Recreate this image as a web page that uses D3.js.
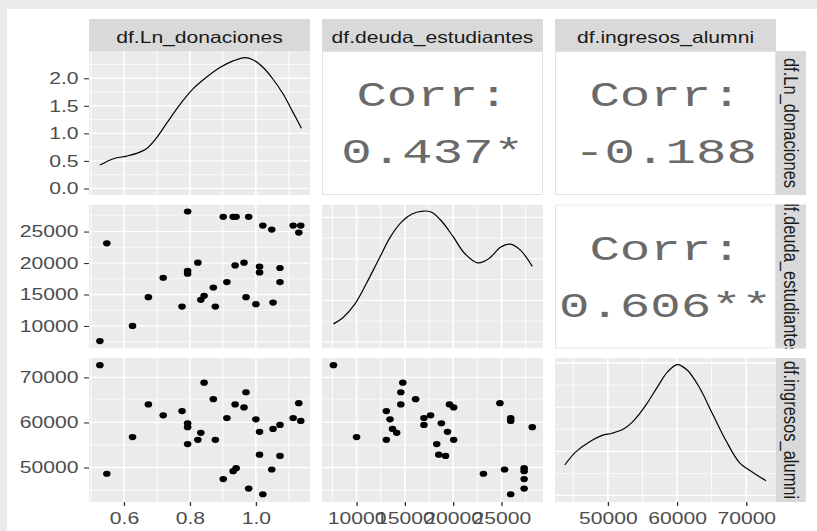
<!DOCTYPE html>
<meta charset="utf-8">
<html>
<head>
<style>
  body { margin: 0; background: #fff; }
  svg { display: block; }
</style>
<script src="https://d3js.org/d3.v7.min.js"></script>
</head>
<body>
<script>

// Variable names (strip labels)
var varNames = ["df.Ln_donaciones", "df.deuda_estudiantes", "df.ingresos_alumni"];

var lnDonaciones = [0.527, 0.548, 0.626, 0.674, 0.719, 0.776, 0.793, 0.793, 0.793, 0.824, 0.833,
                    0.843, 0.871, 0.877, 0.901, 0.912, 0.931, 0.940, 0.937, 0.964, 0.970, 0.978,
                    1.000, 1.011, 1.011, 1.021, 1.048, 1.052, 1.073, 1.073, 1.113, 1.130, 1.136];
var deudaEstudiantes = [7607, 23133, 10000, 14580, 17660, 13080, 28191, 18777, 18298, 20053, 14150,
                        14788, 16112, 13080, 27346, 16974, 27346, 27346, 19623, 20053, 14580, 27346,
                        13463, 19415, 18505, 25957, 25319, 13718, 16974, 19208, 25957, 24840, 25957];
var ingresosAlumni = [72703, 48615, 56747, 64000, 61582, 62527, 58945, 59824, 55209, 56154, 57692,
                      68835, 65165, 56154, 47429, 60989, 49187, 49846, 64000, 63341, 66703, 45319,
                      60703, 57912, 52857, 44066, 49560, 58571, 59451, 52571, 60989, 64286, 60330];

// Diagonal density curves
var donDensX = [0.527, 0.568, 0.608, 0.638, 0.669, 0.699, 0.729, 0.770, 0.810, 0.851, 0.891,
                0.931, 0.967, 0.992, 1.022, 1.052, 1.083, 1.113, 1.138];
var donDensY = [0.424, 0.54, 0.587, 0.636, 0.727, 0.922, 1.18, 1.527, 1.813, 2.024, 2.195,
                2.315, 2.376, 2.333, 2.195, 1.982, 1.709, 1.376, 1.091];
var deudaDensX = [7600, 8605, 9796, 10988, 12342, 13534, 14715, 15733, 16925, 17770, 18788,
                  19980, 21171, 22525, 23717, 24898, 25916, 26935, 28190];
var deudaDensY = [0.87, 1.18, 1.81, 2.79, 4.02, 5.08, 5.80, 6.16, 6.30, 6.24, 5.82,
                  5.08, 4.27, 3.81, 4.02, 4.56, 4.71, 4.43, 3.64]; // x 1e-5
var ingDensX = [43768, 45319, 47246, 49174, 50623, 52319, 53768, 55464, 57145, 58594, 60043,
                61493, 63188, 65116, 67058, 68986, 70913, 72855];
var ingDensY = [1.38, 1.96, 2.41, 2.72, 2.82, 3.02, 3.40, 4.08, 4.91, 5.59, 5.93,
                5.67, 4.91, 3.70, 2.49, 1.50, 1.05, 0.67]; // x 1e-5

// Correlation panels
var corrRows = [0, 0, 1];
var corrCols = [1, 2, 2];
var corrLabels = ["0.437*", "-0.188", "0.606**"];

// Axis limits and breaks
var limDon = [0.494, 1.164];
var limDeuda = [6420, 29300];
var limIng = [42350, 74300];
var ticksDon = [0.6, 0.8, 1.0];
var ticksDeuda = [10000, 15000, 20000, 25000];
var ticksIng = [50000, 60000, 70000];
var ticksDonDens = [0.0, 0.5, 1.0, 1.5, 2.0];
var ticksDens = [0, 2, 4, 6];

// Layout
var width = 817, height = 531;
var colX = [89, 322, 555], panelW = 221;
var rowY = [51, 204.5, 358], panelH = 144;
var SX = 1.28; // the picture is stretched sideways, so text and dots are too
var fontSans = "'Liberation Sans', Arial, sans-serif";

var svg = d3.select("body").append("svg")
    .attr("width", width)
    .attr("height", height);

// grey frame of the screenshot
svg.append("rect").attr("width", width).attr("height", height).attr("fill", "#ebebeb");
svg.append("rect").attr("x", 7).attr("y", 9).attr("width", width).attr("height", height).attr("fill", "#fff");

function expand(lo, hi) {
    var pad = (hi - lo) * 0.05;
    return [lo - pad, hi + pad];
}

function minorTicks(major, dom) {
    var step = major[1] - major[0], out = [];
    for (var v = major[0] - step / 2; v <= dom[1]; v += step) {
        if (v >= dom[0]) out.push(v);
    }
    return out;
}

var lims = [limDon, limDeuda, limIng];
var majors = [ticksDon, ticksDeuda, ticksIng];
var columns = [lnDonaciones, deudaEstudiantes, ingresosAlumni];

var xScales = lims.map(function(l, c) {
    return d3.scaleLinear().domain(l).range([colX[c], colX[c] + panelW]);
});
var yScales = lims.map(function(l, r) {
    return d3.scaleLinear().domain(l).range([rowY[r] + panelH, rowY[r]]);
});

// density scales of the diagonal
var densX = [donDensX, deudaDensX, ingDensX];
var densY = [donDensY, deudaDensY, ingDensY];
var densTicks = [ticksDonDens, ticksDens, ticksDens];
var densScales = densY.map(function(d, i) {
    return d3.scaleLinear().domain(expand(0, d3.max(d))).range([rowY[i] + panelH, rowY[i]]);
});

// clip paths per panel
var defs = svg.append("defs");
for (var r = 0; r < 3; r++) {
    for (var c = 0; c < 3; c++) {
        defs.append("clipPath").attr("id", "clip" + r + c)
            .append("rect").attr("x", colX[c]).attr("y", rowY[r])
            .attr("width", panelW).attr("height", panelH);
    }
    defs.append("clipPath").attr("id", "clipStrip" + r)
        .append("rect").attr("x", 776).attr("y", rowY[r])
        .attr("width", 30).attr("height", panelH);
}

function drawGrid(g, r, c, ys, yMajor) {
    var xs = xScales[c];
    var xMinor = minorTicks(majors[c], xs.domain());
    var yMinor = minorTicks(yMajor, ys.domain());
    var x0 = colX[c], x1 = colX[c] + panelW, y0 = rowY[r], y1 = rowY[r] + panelH;

    g.append("rect").attr("x", x0).attr("y", y0).attr("width", panelW).attr("height", panelH)
        .attr("fill", "#ebebeb");

    g.selectAll(".hminor").data(yMinor).enter().append("line")
        .attr("x1", x0).attr("x2", x1)
        .attr("y1", function(d) { return ys(d); }).attr("y2", function(d) { return ys(d); })
        .attr("stroke", "#fff").attr("stroke-width", 0.7);
    g.selectAll(".vminor").data(xMinor).enter().append("line")
        .attr("y1", y0).attr("y2", y1)
        .attr("x1", function(d) { return xs(d); }).attr("x2", function(d) { return xs(d); })
        .attr("stroke", "#fff").attr("stroke-width", 0.9);
    g.selectAll(".hmajor").data(yMajor).enter().append("line")
        .attr("x1", x0).attr("x2", x1)
        .attr("y1", function(d) { return ys(d); }).attr("y2", function(d) { return ys(d); })
        .attr("stroke", "#fff").attr("stroke-width", 1.3);
    g.selectAll(".vmajor").data(majors[c]).enter().append("line")
        .attr("y1", y0).attr("y2", y1)
        .attr("x1", function(d) { return xs(d); }).attr("x2", function(d) { return xs(d); })
        .attr("stroke", "#fff").attr("stroke-width", 1.6);
}

for (var r = 0; r < 3; r++) {
    for (var c = 0; c < 3; c++) {
        var g = svg.append("g").attr("clip-path", "url(#clip" + r + c + ")");
        if (r === c) {
            // diagonal: density line
            var ds = densScales[r];
            drawGrid(g, r, c, ds, densTicks[r]);
            var pts = densX[r].map(function(x, i) { return [x, densY[r][i]]; });
            var line = d3.line()
                .x(function(d) { return xScales[c](d[0]); })
                .y(function(d) { return ds(d[1]); })
                .curve(d3.curveCatmullRom);
            g.append("path").datum(pts).attr("d", line)
                .attr("fill", "none").attr("stroke", "#000").attr("stroke-width", 1.2);
        } else if (r > c) {
            // lower: scatter
            drawGrid(g, r, c, yScales[r], majors[r]);
            var xs = xScales[c], ys = yScales[r];
            var xv = columns[c], yv = columns[r];
            g.selectAll("ellipse").data(d3.range(xv.length)).enter().append("ellipse")
                .attr("cx", function(i) { return xs(xv[i]); })
                .attr("cy", function(i) { return ys(yv[i]); })
                .attr("rx", 3.8).attr("ry", 3.1)
                .attr("fill", "#000");
        } else {
            // upper: correlation text panel
            g.append("rect").attr("x", colX[c] + 0.5).attr("y", rowY[r] + 0.5)
                .attr("width", panelW - 1).attr("height", panelH - 1)
                .attr("fill", "#fff").attr("stroke", "#e3e3e3").attr("stroke-width", 1);
        }
    }
}

// correlation labels
corrLabels.forEach(function(lab, i) {
    var cx = colX[corrCols[i]] + panelW / 2;
    var cy = rowY[corrRows[i]] + panelH / 2;
    [["Corr:", cy - 17], [lab, cy + 40]].forEach(function(t) {
        svg.append("text")
            .attr("transform", "translate(" + cx + "," + t[1] + ") scale(1.45,1)")
            .attr("text-anchor", "middle")
            .attr("font-family", "'Liberation Mono', 'Courier New', monospace")
            .attr("font-size", 35)
            .attr("fill", "#6a6a6a")
            .text(t[0]);
    });
});

// top strips
varNames.forEach(function(name, c) {
    svg.append("rect").attr("x", colX[c]).attr("y", 19).attr("width", panelW).attr("height", 32)
        .attr("fill", "#d9d9d9");
    svg.append("text")
        .attr("transform", "translate(" + (colX[c] + panelW / 2) + ",43) scale(" + SX + ",1)")
        .attr("text-anchor", "middle")
        .attr("font-family", fontSans).attr("font-size", 16.5)
        .attr("fill", "#1a1a1a")
        .text(name);
});

// right strips
varNames.forEach(function(name, r) {
    svg.append("rect").attr("x", 776).attr("y", rowY[r]).attr("width", 30).attr("height", panelH)
        .attr("fill", "#d9d9d9");
    svg.append("g").attr("clip-path", "url(#clipStrip" + r + ")")
        .append("text")
        .attr("transform", "translate(791," + (rowY[r] + panelH / 2) + ") rotate(90) scale(1," + SX + ")")
        .attr("text-anchor", "middle")
        .attr("dominant-baseline", "central")
        .attr("font-family", fontSans).attr("font-size", 16.5)
        .attr("fill", "#1a1a1a")
        .text(name);
});

// left axes
var leftScales = [densScales[0], yScales[1], yScales[2]];
var leftTicks = [ticksDonDens, ticksDeuda, ticksIng];
var leftFmt = [d3.format(".1f"), d3.format("d"), d3.format("d")];
for (var r = 0; r < 3; r++) {
    var ax = svg.append("g")
        .attr("transform", "translate(" + colX[0] + ",0)")
        .call(d3.axisLeft(leftScales[r]).tickValues(leftTicks[r]).tickSize(5).tickFormat(leftFmt[r]));
    ax.select(".domain").remove();
    ax.attr("font-family", fontSans).attr("font-size", 16.5);
    ax.selectAll("line").attr("stroke", "#333").attr("stroke-width", 1.1);
    ax.selectAll("text").attr("x", null)
        .attr("transform", "translate(-10.5,0) scale(" + SX + ",1)")
        .attr("fill", "#4d4d4d");
}

// bottom axes (the deuda labels overlap in the original too)
var botFmt = [d3.format(".1f"), d3.format("d"), d3.format("d")];
for (var c = 0; c < 3; c++) {
    var bx = svg.append("g")
        .attr("transform", "translate(0," + (rowY[2] + panelH) + ")")
        .call(d3.axisBottom(xScales[c]).tickValues(majors[c]).tickSize(4).tickFormat(botFmt[c]));
    bx.select(".domain").remove();
    bx.attr("font-family", fontSans).attr("font-size", 16.5);
    bx.selectAll("line").attr("stroke", "#333").attr("stroke-width", 1.3);
    bx.selectAll("text").attr("y", null)
        .attr("transform", "translate(0,10.5) scale(" + SX + ",1)")
        .attr("fill", "#4d4d4d");
}

</script>
</body>
</html>
